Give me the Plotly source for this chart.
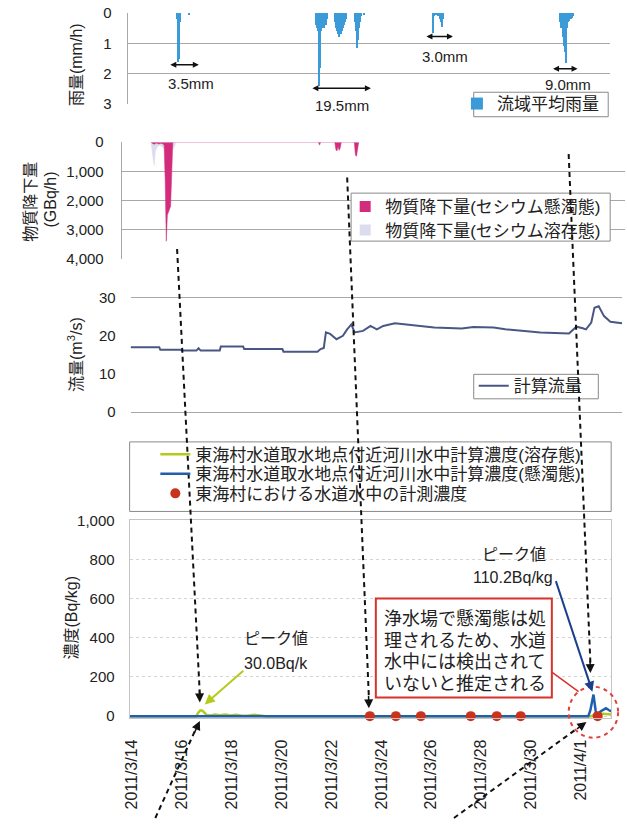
import pandas as pd
import plotly.graph_objects as go

W, H = 627, 826
FONT = "Liberation Sans, Noto Sans CJK JP, sans-serif"
TXT = "#222222"

# ---------------- data ----------------
x_range = ["2011-03-13 22:00", "2011-04-02 05:00"]
tick_dates = ["2011-03-14", "2011-03-16", "2011-03-18", "2011-03-20", "2011-03-22",
              "2011-03-24", "2011-03-26", "2011-03-28", "2011-03-30", "2011-04-01"]
tick_labels = ["2011/3/14", "2011/3/16", "2011/3/18", "2011/3/20", "2011/3/22",
               "2011/3/24", "2011/3/26", "2011/3/28", "2011/3/30", "2011/4/1"]

# hourly basin-average rainfall (mm/h), per rain event: start hour + hourly values
rain_ev1_start = "2011-03-15 21:00"
rain_ev1 = [0.2, 1.6, 1.5, 0.3]
rain_ev1b_start = "2011-03-16 09:00"
rain_ev1b = [0.08]
rain_ev2a_start = "2011-03-21 10:00"
rain_ev2a = [0.4, 0.5, 0.6, 2.4, 1.8, 0.6, 0.5, 0.4, 0.5, 0.3, 0.4, 0.2]
rain_ev2b_start = "2011-03-22 05:00"
rain_ev2b = [0.3, 0.5, 0.6, 0.7, 0.8, 0.7, 0.6, 0.5, 0.4, 0.3, 0.2]
rain_ev2c_start = "2011-03-23 00:00"
rain_ev2c = [0.3, 0.6, 1.15, 0.9, 0.5, 0.3, 0.1]
rain_ev2d_start = "2011-03-23 09:00"
rain_ev2d = [0.06]
rain_ev3_start = "2011-03-26 03:00"
rain_ev3 = [0.65, 0.1, 0.05, 0.05, 0.05, 0.1, 0.2, 0.3, 0.45, 0.2]
rain_ev4_start = "2011-03-31 05:00"
rain_ev4 = [0.3, 0.5, 0.8, 1.1, 1.3, 1.65, 0.5, 0.3, 0.25, 0.2, 0.2, 0.15, 0.1]

# deposition (GBq/h): suspended caesium
susp_times = ["2011-03-15 01:00", "2011-03-15 02:00", "2011-03-15 04:00", "2011-03-15 06:00",
              "2011-03-15 08:00", "2011-03-15 10:00", "2011-03-15 12:00", "2011-03-15 13:00",
              "2011-03-15 14:00", "2011-03-15 15:00", "2011-03-15 16:00", "2011-03-15 17:00",
              "2011-03-15 18:00", "2011-03-15 19:00", "2011-03-15 20:00", "2011-03-15 21:00",
              "2011-03-21 11:00", "2011-03-21 12:00", "2011-03-21 13:00",
              "2011-03-22 02:00", "2011-03-22 03:00", "2011-03-22 04:00", "2011-03-22 05:00",
              "2011-03-22 06:00", "2011-03-22 07:00", "2011-03-22 08:00",
              "2011-03-22 20:00", "2011-03-22 21:00", "2011-03-22 22:00", "2011-03-22 23:00",
              "2011-03-23 00:00"]
susp_vals = [0, 40, 70, 30, 60, 40, 60, 100, 1300, 3400, 2500, 2350, 2300, 2200, 600, 0,
             0, 100, 0,
             0, 250, 300, 150, 280, 200, 0,
             0, 450, 480, 200, 0]
# deposition (GBq/h): dissolved caesium
diss_times = ["2011-03-15 01:00", "2011-03-15 02:00", "2011-03-15 03:00", "2011-03-15 04:00",
              "2011-03-15 05:00", "2011-03-15 07:00", "2011-03-15 09:00", "2011-03-15 11:00",
              "2011-03-15 13:00", "2011-03-15 15:00", "2011-03-15 17:00", "2011-03-15 19:00",
              "2011-03-15 21:00", "2011-03-15 23:00", "2011-03-16 00:00",
              "2011-03-22 02:00", "2011-03-22 03:00", "2011-03-22 06:00", "2011-03-22 08:00",
              "2011-03-22 20:00", "2011-03-22 21:00", "2011-03-22 23:00"]
diss_vals = [0, 450, 600, 800, 300, 150, 100, 150, 200, 300, 400, 300, 250, 100, 0,
             0, 100, 120, 0,
             0, 150, 0]

# computed river flow (m3/s)
flow_times = ["2011-03-13 22:00", "2011-03-15 01:00", "2011-03-15 02:00", "2011-03-15 21:00",
              "2011-03-15 22:00", "2011-03-16 12:00", "2011-03-16 14:00", "2011-03-16 16:00",
              "2011-03-17 10:00", "2011-03-17 11:00", "2011-03-18 08:00", "2011-03-18 09:00",
              "2011-03-19 21:00", "2011-03-19 22:00", "2011-03-21 06:00", "2011-03-21 09:00",
              "2011-03-21 12:00", "2011-03-21 14:00", "2011-03-21 18:00", "2011-03-22 00:00",
              "2011-03-22 06:00", "2011-03-22 10:00", "2011-03-22 14:00", "2011-03-22 17:00",
              "2011-03-23 01:00", "2011-03-23 08:00", "2011-03-23 14:00", "2011-03-23 20:00",
              "2011-03-24 07:00", "2011-03-24 18:00", "2011-03-25 20:00", "2011-03-26 22:00",
              "2011-03-27 09:00", "2011-03-28 04:00", "2011-03-28 15:00", "2011-03-29 09:00",
              "2011-03-30 00:00", "2011-03-31 03:00", "2011-03-31 10:00", "2011-03-31 16:00",
              "2011-03-31 19:00", "2011-04-01 00:00", "2011-04-01 03:00", "2011-04-01 07:00",
              "2011-04-01 12:00", "2011-04-01 18:00", "2011-04-02 05:00"]
flow_vals = [17.0, 17.0, 16.3, 16.3, 16.1, 16.1, 16.7, 16.1, 16.1, 17.2, 17.2, 16.5,
             16.5, 15.8, 15.8, 16.5, 16.8, 20.9, 20.5, 19.1, 20.0, 21.7, 23.0, 20.9,
             21.3, 22.6, 21.7, 22.6, 23.3, 23.0, 22.2, 21.9, 22.3, 22.2, 21.7, 21.3,
             20.9, 20.6, 22.4, 22.0, 21.7, 23.5, 27.4, 27.8, 25.2, 23.7, 23.3]

# computed river-water concentration near Tokai intake (Bq/kg)
diss_conc_times = ["2011-03-13 22:00", "2011-03-16 14:00", "2011-03-16 16:00", "2011-03-16 18:00",
                   "2011-03-16 20:00", "2011-03-16 22:00", "2011-03-17 00:00", "2011-03-17 04:00",
                   "2011-03-17 08:00", "2011-03-17 13:00", "2011-03-17 18:00", "2011-03-17 23:00",
                   "2011-03-18 04:00", "2011-03-18 09:00", "2011-03-18 15:00", "2011-03-18 22:00",
                   "2011-03-19 03:00", "2011-03-19 09:00", "2011-04-01 10:00", "2011-04-01 14:00",
                   "2011-04-01 18:00", "2011-04-01 22:00", "2011-04-02 05:00"]
diss_conc_vals = [0, 0, 18, 30, 28, 14, 6, 3, 8, 4, 8, 3, 7, 3, 2, 7, 5, 0, 0, 10, 14, 12, 8]
susp_conc_times = ["2011-03-13 22:00", "2011-04-01 07:00", "2011-04-01 09:00", "2011-04-01 12:00",
                   "2011-04-01 14:00", "2011-04-01 15:00", "2011-04-01 19:00", "2011-04-02 00:00",
                   "2011-04-02 03:00", "2011-04-02 05:00"]
susp_conc_vals = [0, 0, 30, 110.2, 30, 5, 25, 40, 30, 25]
# measured tap-water concentration in Tokai village (Bq/kg)
meas_times = ["2011-03-23 13:00", "2011-03-24 14:00", "2011-03-25 14:00", "2011-03-27 14:00",
              "2011-03-28 15:00", "2011-03-29 14:00", "2011-04-01 16:00"]
meas_vals = [0, 0, 0, 0, 0, 0, 0]

# ---------------- helpers ----------------
def px(x):
    return x / W

def py(y):
    return 1 - y / H

def dx(a, b):
    return [a / W, b / W]

def dy(top, bottom):
    return [1 - bottom / H, 1 - top / H]

rain_x, rain_y = [], []
for st, vals in [(rain_ev1_start, rain_ev1), (rain_ev1b_start, rain_ev1b),
                 (rain_ev2a_start, rain_ev2a), (rain_ev2b_start, rain_ev2b),
                 (rain_ev2c_start, rain_ev2c), (rain_ev2d_start, rain_ev2d),
                 (rain_ev3_start, rain_ev3), (rain_ev4_start, rain_ev4)]:
    rain_x += list(pd.date_range(st, periods=len(vals), freq="h"))
    rain_y += vals

RAIN_C = "#3b9ad8"
MAG_C = "#d42c7c"
LAV_C = "#dcdcef"
FLOW_C = "#4a5785"
BLUE_C = "#1f5fae"
GREEN_C = "#b4cb1c"
RED_C = "#c8331d"

fig = go.Figure()

# rain
fig.add_trace(go.Bar(x=rain_x, y=rain_y, width=3600000 * 1.15, name="流域平均雨量",
                     marker=dict(color=RAIN_C, line=dict(width=0)),
                     xaxis="x", yaxis="y", legend="legend"))
# deposition
fig.add_trace(go.Scatter(x=diss_times, y=diss_vals, mode="lines", fill="tozeroy",
                         line=dict(color=LAV_C, width=0.5), fillcolor=LAV_C,
                         showlegend=False, xaxis="x2", yaxis="y2"))
fig.add_trace(go.Scatter(x=susp_times, y=susp_vals, mode="lines", fill="tozeroy",
                         line=dict(color=MAG_C, width=0.5), fillcolor=MAG_C,
                         showlegend=False, xaxis="x2", yaxis="y2"))
fig.add_trace(go.Scatter(x=[None], y=[None], mode="markers", name="物質降下量(セシウム懸濁態)",
                         marker=dict(symbol="square", size=11, color=MAG_C),
                         xaxis="x2", yaxis="y2", legend="legend2"))
fig.add_trace(go.Scatter(x=[None], y=[None], mode="markers", name="物質降下量(セシウム溶存態)",
                         marker=dict(symbol="square", size=11, color=LAV_C),
                         xaxis="x2", yaxis="y2", legend="legend5"))
# flow
fig.add_trace(go.Scatter(x=flow_times, y=flow_vals, mode="lines", name="計算流量",
                         line=dict(color=FLOW_C, width=2),
                         xaxis="x3", yaxis="y3", legend="legend3"))
# concentration
fig.add_trace(go.Scatter(x=diss_conc_times, y=diss_conc_vals, mode="lines",
                         name="東海村水道取水地点付近河川水中計算濃度(溶存態)",
                         line=dict(color=GREEN_C, width=2.5),
                         xaxis="x4", yaxis="y4", legend="legend4"))
fig.add_trace(go.Scatter(x=susp_conc_times, y=susp_conc_vals, mode="lines",
                         name="東海村水道取水地点付近河川水中計算濃度(懸濁態)",
                         line=dict(color=BLUE_C, width=2.5),
                         xaxis="x4", yaxis="y4", legend="legend6"))
fig.add_trace(go.Scatter(x=meas_times, y=meas_vals, mode="markers",
                         name="東海村における水道水中の計測濃度",
                         marker=dict(color=RED_C, size=10), cliponaxis=False,
                         xaxis="x4", yaxis="y4", legend="legend7"))

GRID = "#a8a8a8"
tickfont = dict(family=FONT, size=15, color=TXT)

def hidden_x(domain, anchor, **kw):
    d = dict(domain=domain, anchor=anchor, range=x_range, type="date",
             showticklabels=False, showgrid=False, zeroline=False, ticks="")
    d.update(kw)
    return d

def leg(x, ycenter):
    return dict(x=px(x), y=py(ycenter), xanchor="left", yanchor="middle",
                borderwidth=0, bgcolor="rgba(0,0,0,0)",
                font=dict(family=FONT, size=17, color=TXT))

layout = dict(
    width=W, height=H, margin=dict(l=0, r=0, t=0, b=0),
    paper_bgcolor="white", plot_bgcolor="white",
    font=dict(family=FONT, size=15, color=TXT),
    bargap=0,
    xaxis=hidden_x(dx(122, 610), "y"),
    yaxis=dict(domain=dy(4, 97), anchor="x", range=[3, 0], tickvals=[0, 1, 2, 3],
               showgrid=True, gridcolor=GRID, gridwidth=1, zeroline=False,
               showline=True, linecolor=GRID, ticks="", tickfont=tickfont,
               ticklabelstandoff=12),
    xaxis2=hidden_x(dx(116, 625), "y2"),
    yaxis2=dict(domain=dy(136, 255), anchor="x2", range=[4000, 0],
                tickvals=[0, 1000, 2000, 3000, 4000], tickformat=",",
                showgrid=True, gridcolor=GRID, zeroline=False,
                showline=True, linecolor=GRID, ticks="", tickfont=tickfont,
                ticklabelstandoff=14),
    xaxis3=hidden_x(dx(125, 622), "y3", showline=True, mirror=True, linecolor=GRID),
    yaxis3=dict(domain=dy(295, 411), anchor="x3", range=[0, 30], tickvals=[0, 10, 20, 30],
                showgrid=False, zeroline=False, showline=False, ticks="",
                tickfont=tickfont, ticklabelstandoff=14),
    xaxis4=dict(domain=dx(124, 611), anchor="y4", range=x_range, type="date",
                tickvals=tick_dates, ticktext=tick_labels, tickangle=-90,
                tickfont=dict(family=FONT, size=16, color=TXT), ticks="",
                ticklabelstandoff=14,
                showgrid=False, zeroline=False, showline=True, mirror=True,
                linecolor="#c4c4c4"),
    yaxis4=dict(domain=dy(522, 724), anchor="x4", range=[-10, 1000],
                tickvals=[0, 200, 400, 600, 800, 1000], tickformat=",",
                showgrid=True, gridcolor="#d4d4d4", griddash="dot", zeroline=False,
                showline=True, mirror=True, linecolor="#c4c4c4", ticks="",
                tickfont=tickfont, ticklabelstandoff=11),
    showlegend=True,
    legend=leg(455, 97),
    legend2=leg(342, 202),
    legend5=leg(342, 226),
    legend3=leg(472, 385),
    legend4=leg(150, 455),
    legend6=leg(150, 475),
    legend7=leg(150, 495),
)
fig.update_layout(**layout)

shapes = []
annotations = []

# legend boxes
for (x0, y0, x1, y1) in [(472, 85, 608, 110), (348, 188, 610, 237),
                         (472, 373, 598, 398), (124, 442, 611, 513)]:
    shapes.append(dict(type="rect", xref="paper", yref="paper", x0=px(x0), x1=px(x1),
                       y0=py(y1), y1=py(y0), line=dict(color="#8a8a8a", width=1),
                       fillcolor="white", layer="above"))

# axis titles
def title(text, x, y, size=16):
    annotations.append(dict(text=text, x=px(x), y=py(y), xref="paper", yref="paper",
                            showarrow=False, textangle=-90, xanchor="center",
                            yanchor="middle", font=dict(family=FONT, size=size, color=TXT)))

title("雨量(mm/h)", 71, 57)
title("物質降下量", 24, 197)
title("(GBq/h)", 44, 195)
title("流量(m<sup>3</sup>/s)", 69, 353)
title("濃度(Bq/kg)", 65, 621)

def text(t, x, y, size=15, anchor="center", color=TXT):
    annotations.append(dict(text=t, x=px(x), y=py(y), xref="paper", yref="paper",
                            showarrow=False, xanchor=anchor, yanchor="middle",
                            font=dict(family=FONT, size=size, color=color)))

def arrow(x, y, ax, ay, color="#111111", width=1.5, size=1.0, head=2, both=False):
    annotations.append(dict(text="", x=px(x), y=py(y), xref="paper", yref="paper",
                            ax=ax - x, ay=ay - y, axref="pixel", ayref="pixel",
                            showarrow=True, arrowhead=head, arrowsize=size,
                            arrowwidth=width, arrowcolor=color, standoff=0,
                            startstandoff=0,
                            arrowside="end+start" if both else "end",
                            startarrowhead=head, startarrowsize=size))

# rain totals with double arrows
arrow(194, 57, 164, 57, both=True, size=0.8)
text("3.5mm", 186, 76)
arrow(368, 81, 308, 81, both=True, size=0.8)
text("19.5mm", 339, 99)
arrow(451, 28, 423, 28, both=True, size=0.8)
text("3.0mm", 443, 48)
arrow(577, 61, 551, 61, both=True, size=0.8)
text("9.0mm", 567, 77)

# dashed guide lines (body) + arrow heads
def dashed(x0, y0, x1, y1):
    shapes.append(dict(type="line", xref="paper", yref="paper", x0=px(x0), y0=py(y0),
                       x1=px(x1), y1=py(y1), layer="above",
                       line=dict(color="#111111", width=2, dash="5px,4px")))

dashed(172, 245, 195, 700)
arrow(195, 708, 194.6, 694, width=1.5, size=1.2)
dashed(344, 172, 366, 704)
arrow(366, 714, 365.6, 700, width=1.5, size=1.2)
dashed(568, 148, 590, 668)
arrow(590, 678, 589.6, 664, width=1.5, size=1.2)
dashed(150, 826, 191, 735)
arrow(195, 727, 189, 740, width=1.5, size=1.2)
dashed(452, 826, 576, 735)
arrow(586, 728, 575, 736, width=1.5, size=1.2)

# peak annotations
text("ピーク値", 272, 643, size=16)
text("30.0Bq/k", 272, 668, size=16)
arrow(200, 710, 240, 675, color=GREEN_C, width=2, size=1.0)
text("ピーク値", 513, 557, size=16)
text("110.2Bq/kg", 512, 580, size=16)
arrow(592, 697, 555, 585, color="#1c3f8e", width=2, size=1.0)

# red explanation box
shapes.append(dict(type="rect", xref="paper", yref="paper", x0=px(373), x1=px(551),
                   y0=py(703), y1=py(602), line=dict(color="#d8322c", width=2),
                   fillcolor="white", layer="above"))
shapes.append(dict(type="line", xref="paper", yref="paper", x0=px(551), y0=py(677),
                   x1=px(578), y1=py(697), line=dict(color="#d8322c", width=1.5),
                   layer="above"))
shapes.append(dict(type="circle", xref="paper", yref="paper", x0=px(568), x1=px(618),
                   y0=py(744), y1=py(692), layer="above",
                   line=dict(color="#e0403a", width=2, dash="4px,4px")))
for i, line in enumerate(["浄水場で懸濁態は処", "理されるため、水道",
                          "水中には検出されて", "いないと推定される"]):
    text(line, 379, 623 + 22 * i, size=18, anchor="left")

fig.update_layout(shapes=shapes, annotations=annotations)
fig.write_html("out.html", config={"displayModeBar": False},
               post_script="document.body.style.margin='0';document.body.style.overflow='hidden';")
